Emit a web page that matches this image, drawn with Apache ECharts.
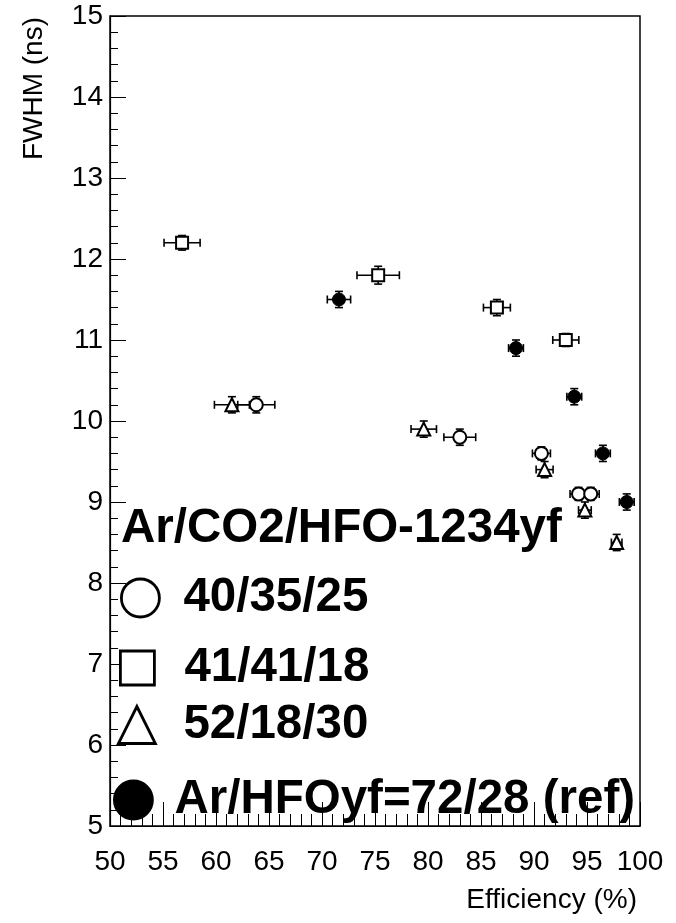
<!DOCTYPE html>
<html><head><meta charset="utf-8">
<script src="https://cdn.jsdelivr.net/npm/echarts@6/dist/echarts.min.js"></script>
<style>html,body{margin:0;padding:0;background:#fff}#c{width:676px;height:923px}</style>
</head><body><div id="c"></div>
<script>
// ---- data ----
const legendTitle = 'Ar/CO2/HFO-1234yf';
const seriesNames = ['40/35/25', '41/41/18', '52/18/30', 'Ar/HFOyf=72/28 (ref)'];

const circleX    = [63.8, 83.0, 90.7, 94.2, 95.35];
const circleY    = [10.2, 9.8, 9.6, 9.1, 9.1];
const circleXErr = [1.75, 1.5, 0.85, 0.8, 0.8];
const circleYErr = [0.1, 0.1, 0.08, 0.08, 0.08];

const squareX    = [56.8, 75.3, 86.5, 93.0];
const squareY    = [12.2, 11.8, 11.4, 11.0];
const squareXErr = [1.7, 2.0, 1.27, 1.23];
const squareYErr = [0.09, 0.11, 0.1, 0.08];

const triX    = [61.5, 79.6, 91.0, 94.8, 97.8];
const triY    = [10.2, 9.9, 9.4, 8.9, 8.5];
const triXErr = [1.65, 1.2, 0.8, 0.6, 0.5];
const triYErr = [0.1, 0.1, 0.1, 0.1, 0.1];

const refX    = [71.6, 88.3, 93.8, 96.5, 98.75];
const refY    = [11.5, 10.9, 10.3, 9.6, 9.0];
const refXErr = [1.1, 0.7, 0.7, 0.7, 0.7];
const refYErr = [0.1, 0.1, 0.1, 0.1, 0.1];

const xMin = 50, xMax = 100, xStep = 5;
const yMin = 5, yMax = 15, yStep = 1;
const xTitle = 'Efficiency (%)';
const yTitle = 'FWHM (ns)';

// ---- build ----
function pts(xs, ys) { return xs.map((v, i) => [v, ys[i]]); }
function errs(xs, ys, xe, ye) { return xs.map((v, i) => [v, ys[i], xe[i], ye[i]]); }

const FONT = '"Liberation Sans", Arial, Helvetica, sans-serif';

function errRenderItem(params, api) {
  const x = api.value(0), y = api.value(1), xe = api.value(2), ye = api.value(3);
  const c = api.coord([x, y]);
  const l = api.coord([x - xe, y]), r = api.coord([x + xe, y]);
  const t = api.coord([x, y + ye]), b = api.coord([x, y - ye]);
  const cap = 4;
  const st = { stroke: '#000', lineWidth: 1.6 };
  return {
    type: 'group',
    children: [
      { type: 'line', shape: { x1: l[0], y1: c[1], x2: r[0], y2: c[1] }, style: st },
      { type: 'line', shape: { x1: l[0], y1: c[1] - cap, x2: l[0], y2: c[1] + cap }, style: st },
      { type: 'line', shape: { x1: r[0], y1: c[1] - cap, x2: r[0], y2: c[1] + cap }, style: st },
      { type: 'line', shape: { x1: c[0], y1: t[1], x2: c[0], y2: b[1] }, style: st },
      { type: 'line', shape: { x1: c[0] - cap, y1: t[1], x2: c[0] + cap, y2: t[1] }, style: st },
      { type: 'line', shape: { x1: c[0] - cap, y1: b[1], x2: c[0] + cap, y2: b[1] }, style: st }
    ]
  };
}

function errSeries(data) {
  return { type: 'custom', renderItem: errRenderItem, data: data, z: 2, silent: true,
           encode: { x: 0, y: 1 } };
}

const openStyle = { color: '#fff', borderColor: '#000', borderWidth: 2, opacity: 1 };
const filledStyle = { color: '#000', borderColor: '#000', borderWidth: 1, opacity: 1 };

const legendText = { fontFamily: FONT, fontWeight: 'bold', fontSize: 47.5, color: '#000' };

function mkLegend(name, left, top, w, h, gap) {
  return {
    data: [name], left: left, top: top, itemWidth: w, itemHeight: h, padding: 0,
    selectedMode: false, itemStyle: { borderWidth: 2.8, opacity: 1 },
    textStyle: Object.assign({}, legendText, { padding: [0, 0, 0, gap] })
  };
}

const chart = echarts.init(document.getElementById('c'), null, { renderer: 'canvas' });
chart.setOption({
  backgroundColor: '#fff',
  animation: false,
  title: {
    text: legendTitle, left: 121, top: 505, padding: 0,
    textStyle: legendText
  },
  legend: [
    mkLegend(seriesNames[0], 120, 574, 38, 38, 19),
    mkLegend(seriesNames[1], 119, 644, 34, 34, 25),
    mkLegend(seriesNames[2], 117, 701, 37, 37, 23),
    mkLegend(seriesNames[3], 113, 776, 38, 38, 17)
  ],
  grid: { left: 110, top: 16, right: 36, bottom: 97, show: true, borderColor: '#000', borderWidth: 1.5, backgroundColor: 'transparent' },
  xAxis: {
    type: 'value', min: xMin, max: xMax, interval: xStep,
    name: xTitle, nameLocation: 'end', nameGap: -3,
    nameTextStyle: { fontFamily: FONT, fontSize: 28, color: '#000', align: 'right', verticalAlign: 'top', padding: [60, 0, 0, 0] },
    axisLine: { show: true, lineStyle: { color: '#000', width: 1.2 } },
    axisTick: { show: true, inside: true, length: 24, lineStyle: { color: '#000', width: 1 } },
    minorTick: { show: true, splitNumber: 5, length: 12, lineStyle: { color: '#000', width: 1 } },
    axisLabel: { fontFamily: FONT, fontSize: 28, color: '#000', margin: 22 },
    splitLine: { show: false }
  },
  yAxis: {
    type: 'value', min: yMin, max: yMax, interval: yStep,
    name: yTitle, nameLocation: 'end', nameGap: -1, nameRotate: 90,
    nameTextStyle: { fontFamily: FONT, fontSize: 28, color: '#000', align: 'right', verticalAlign: 'bottom', padding: [0, 0, 62, 0] },
    axisLine: { show: true, lineStyle: { color: '#000', width: 1.2 } },
    axisTick: { show: true, inside: true, length: 16, lineStyle: { color: '#000', width: 1 } },
    minorTick: { show: true, splitNumber: 5, length: 8, lineStyle: { color: '#000', width: 1 } },
    axisLabel: { fontFamily: FONT, fontSize: 28, color: '#000', margin: 7 },
    splitLine: { show: false }
  },
  series: [
    errSeries(errs(circleX, circleY, circleXErr, circleYErr)),
    errSeries(errs(squareX, squareY, squareXErr, squareYErr)),
    errSeries(errs(triX, triY, triXErr, triYErr)),
    errSeries(errs(refX, refY, refXErr, refYErr)),
    { name: seriesNames[0], type: 'scatter', symbol: 'circle', symbolSize: 13, z: 3, itemStyle: openStyle, data: pts(circleX, circleY) },
    { name: seriesNames[1], type: 'scatter', symbol: 'rect', symbolSize: 12, z: 3, itemStyle: openStyle, data: pts(squareX, squareY) },
    { name: seriesNames[2], type: 'scatter', symbol: 'triangle', symbolSize: 13, z: 3, itemStyle: openStyle, data: pts(triX, triY) },
    { name: seriesNames[3], type: 'scatter', symbol: 'circle', symbolSize: 13, z: 3, itemStyle: filledStyle, data: pts(refX, refY) }
  ]
});
</script>
</body></html>
